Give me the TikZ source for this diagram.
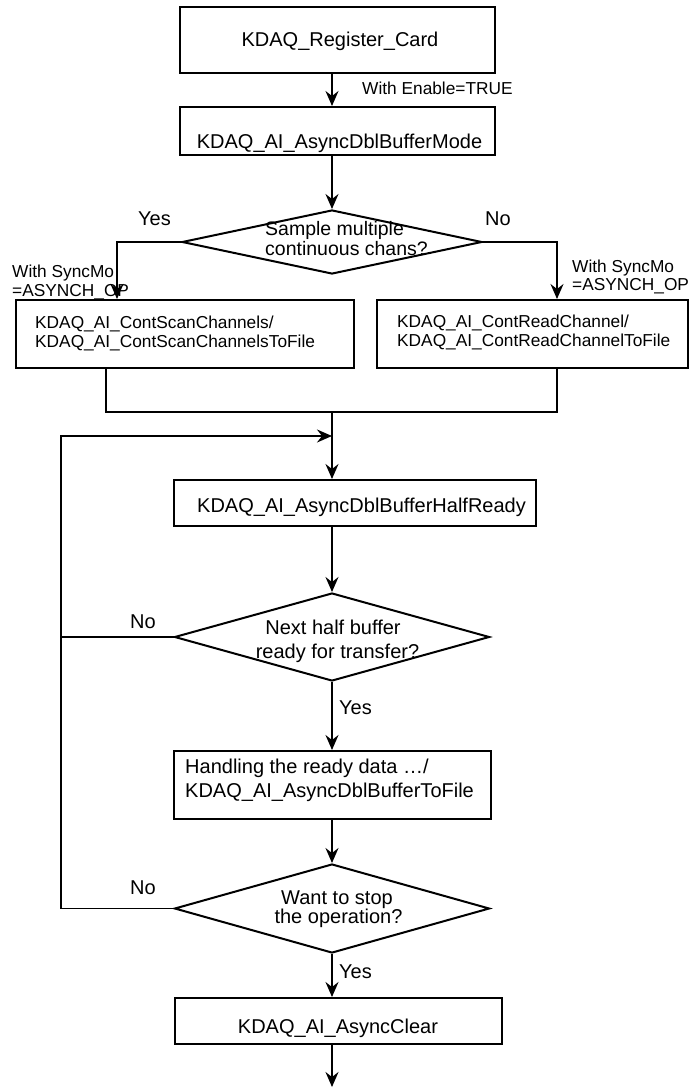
\documentclass[tikz,border=0pt]{standalone}
\usepackage{fontspec}
\setmainfont{Liberation Sans}
\usetikzlibrary{arrows.meta,shapes.geometric}
\begin{document}
\begin{tikzpicture}[x=1pt,y=-1pt,
  box/.style={draw, line width=2pt, inner sep=0pt, rectangle},
  dia/.style={draw, line width=2pt, diamond, inner sep=0pt},
  conn/.style={line width=1.5pt},
  arr/.style={conn, -{Stealth[length=15pt,width=13pt,inset=5pt]}},
  tA/.style={inner sep=0pt, font=\fontsize{20pt}{24pt}\selectfont},
  tD/.style={inner sep=0pt, font=\fontsize{19.5pt}{22pt}\selectfont},
  tB/.style={inner sep=0pt, font=\fontsize{17.3pt}{20pt}\selectfont},
]
\useasboundingbox (0,0) rectangle (691,1089);
\coordinate (cx) at (332,0);
\coordinate (lx) at (117,0);
\coordinate (rx) at (557,0);
\coordinate (mL) at (106,412);
\coordinate (mR) at (557,412);
\coordinate (fb) at (61,436);
\coordinate (fin) at (332,1087);

% shapes
\node[box, minimum width=315pt, minimum height=66pt] (b1) at (337.5,40) {};
\node[box, minimum width=315pt, minimum height=48pt] (b2) at (337.5,131) {};
\node[dia, minimum width=300pt, minimum height=64pt] (d1) at (332,242) {};
\node[box, minimum width=338pt, minimum height=68pt] (bl) at (185,334) {};
\node[box, minimum width=311pt, minimum height=68pt] (br) at (532.5,334) {};
\node[box, minimum width=362pt, minimum height=46pt] (b3) at (355,503) {};
\node[dia, minimum width=315pt, minimum height=88pt] (d2) at (332,637) {};
\node[box, minimum width=317pt, minimum height=68pt] (b4) at (332.5,785) {};
\node[dia, minimum width=315pt, minimum height=89pt] (d3) at (332,908.5) {};
\node[box, minimum width=327pt, minimum height=46pt] (b5) at (338.5,1021) {};

% texts
\node[tA, anchor=base] (t1) at (340,47) {KDAQ\_Register\_Card};
\node[tB, anchor=base west] (lEn) at (362,95) {With Enable=TRUE};
\node[tA, anchor=base] (t2) at (339.5,148) {KDAQ\_AI\_AsyncDblBufferMode};
\node[tA, anchor=base west] (y1) at (138,225) {Yes};
\node[tA, anchor=base west] (n1) at (485,225) {No};
\node[tD, anchor=base west] (d1a) at (265,235.5) {Sample multiple};
\node[tD, anchor=base west] (d1b) at (265,255) {continuous chans?};
\node[tB, anchor=base west] (sl1) at (12,277) {With SyncMo};
\node[tB, anchor=base west] (sl2) at (12,296) {=ASYNCH\_OP};
\node[tB, anchor=base west] (sr1) at (572,272) {With SyncMo};
\node[tB, anchor=base west] (sr2) at (572,290) {=ASYNCH\_OP};
\node[tB, anchor=base west] (bla) at (35,328) {KDAQ\_AI\_ContScanChannels/};
\node[tB, anchor=base west] (blb) at (35,347) {KDAQ\_AI\_ContScanChannelsToFile};
\node[tB, anchor=base west] (bra) at (397,327) {KDAQ\_AI\_ContReadChannel/};
\node[tB, anchor=base west] (brb) at (397,346) {KDAQ\_AI\_ContReadChannelToFile};
\node[tA, anchor=base west] (t3) at (197,512) {KDAQ\_AI\_AsyncDblBufferHalfReady};
\node[tA, anchor=base] (d2a) at (333,634) {Next half buffer};
\node[tA, anchor=base] (d2b) at (337.5,658) {ready for transfer?};
\node[tA, anchor=base west] (n2) at (130,628) {No};
\node[tA, anchor=base west] (y2) at (339,714) {Yes};
\node[tA, anchor=base west] (b4a) at (185,773) {Handling the ready data …/};
\node[tA, anchor=base west] (b4b) at (185,797) {KDAQ\_AI\_AsyncDblBufferToFile};
\node[tA, anchor=base] (d3a) at (337,904) {Want to stop};
\node[tA, anchor=base] (d3b) at (338.5,923) {the operation?};
\node[tA, anchor=base west] (n3) at (130,894) {No};
\node[tA, anchor=base west] (y3) at (339,978) {Yes};
\node[tA, anchor=base] (t5) at (338,1033) {KDAQ\_AI\_AsyncClear};

% connectors
\draw[arr] (b1.south -| cx) -- (b2.north -| cx);
\draw[arr] (b2.south -| cx) -- (d1.north);
\draw[arr] (d1.west) -| (bl.north -| lx);
\draw[arr] (d1.east) -| (br.north -| rx);
\draw[conn] (bl.south -| mL) -- (mL) -- (mR) -- (br.south -| rx);
\draw[arr] (mL -| cx) -- (b3.north -| cx);
\draw[arr] (d3.west) -| (fb) -- (fb -| cx);
\draw[conn] (d2.west) -- (d2.west -| fb);
\draw[arr] (b3.south -| cx) -- (d2.north);
\draw[arr] (d2.south) -- (b4.north -| cx);
\draw[arr] (b4.south -| cx) -- (d3.north);
\draw[arr] (d3.south) -- (b5.north -| cx);
\draw[arr] (b5.south -| cx) -- (fin);
\end{tikzpicture}
\end{document}
